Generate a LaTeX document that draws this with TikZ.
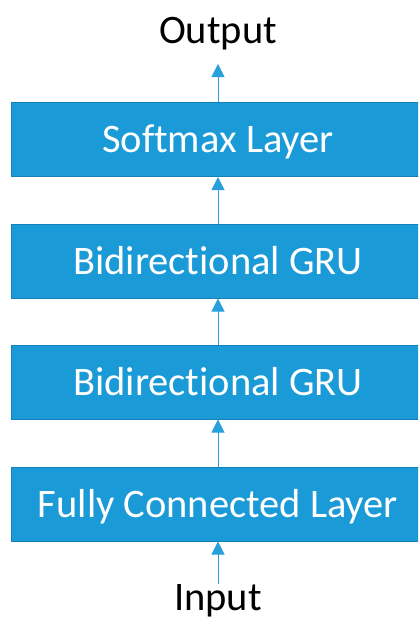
\documentclass[tikz,border=0pt]{standalone}
\usepackage{fontspec}
\setmainfont{Carlito}[Ligatures=NoCommon]
\usetikzlibrary{arrows.meta}
\definecolor{boxblue}{RGB}{26,154,214}
\definecolor{boxedge}{RGB}{22,128,184}
\definecolor{arrowblue}{RGB}{40,160,220}
\begin{document}
\begin{tikzpicture}[x=1pt,y=-1pt,
  layer/.style={draw=boxedge, line width=1pt, fill=boxblue, text=white,
    minimum width=414pt, minimum height=74pt, inner sep=0pt,
    text height=26pt, text depth=0pt,
    font=\fontsize{40.5}{44}\selectfont},
  caption/.style={font=\fontsize{40.5}{44}\selectfont, text=black, inner sep=0pt},
  flow/.style={draw=arrowblue, line width=1pt,
    -{Triangle[width=13pt,length=13pt]}}]
\useasboundingbox (0,0) rectangle (418,621);
\clip (0,0) rectangle (418,621);
% stacked layers
\node[layer] (soft) at (218,139.5) {Softmax Layer};
\node[layer] (gru2) at (218,261) {Bidirectional GRU};
\node[layer] (gru1) at (218,382) {Bidirectional GRU};
\node[layer] (fc)   at (218,504) {Fully Connected Layer};
% end labels
\node[caption, anchor=base] (out) at (218,43) {Output};
\node[caption, anchor=base] (in)  at (218,610) {Input};
\coordinate (outtip) at (218,64);
\coordinate (intail) at (218,584);
% data flow
\draw[flow] (soft.north) -- (outtip);
\draw[flow] (gru2.north) -- (soft.south);
\draw[flow] (gru1.north) -- (gru2.south);
\draw[flow] (fc.north) -- (gru1.south);
\draw[flow] (intail) -- (fc.south);
\end{tikzpicture}
\end{document}
